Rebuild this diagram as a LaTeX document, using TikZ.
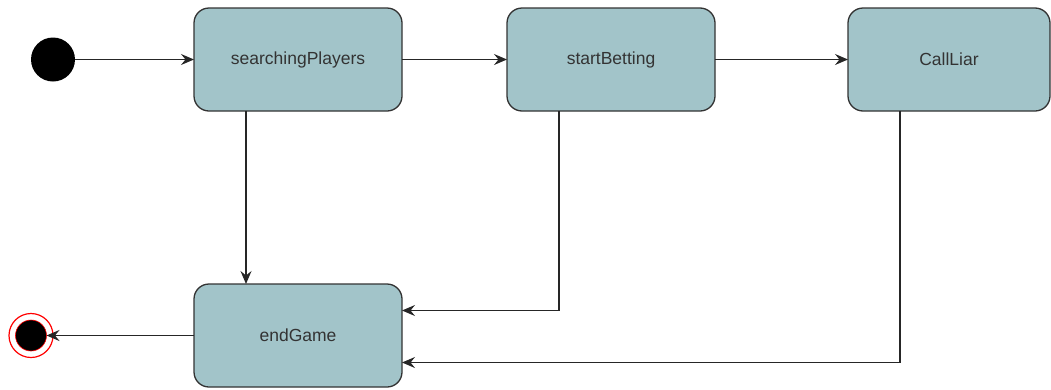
\documentclass[tikz,border=0pt]{standalone}
\usepackage{fontspec}
\setmainfont{Liberation Sans}
\usetikzlibrary{arrows.meta}
\definecolor{boxfill}{HTML}{A2C4C9}
\definecolor{boxline}{HTML}{333333}
\definecolor{txt}{HTML}{333333}
\definecolor{ringred}{HTML}{FF0000}
\tikzset{
  state/.style={draw=boxline, fill=boxfill, line width=1.3pt, rounded corners=15pt,
    minimum width=208pt, minimum height=103pt, inner sep=0pt, outer sep=0pt,
    text=txt, font=\fontsize{17.5}{20}\selectfont},
  arr/.style={draw=black!85, line width=1.3pt,
    -{Stealth[length=13pt,width=11pt,inset=4.5pt]}},
  initial/.style={circle, fill=black, minimum size=44pt, inner sep=0pt, outer sep=0pt},
  finalin/.style={circle, fill=black, draw=ringred, line width=0.6pt, minimum size=31pt, inner sep=0pt, outer sep=0pt},
}
\begin{document}
\begin{tikzpicture}[x=1pt,y=-1pt]
\useasboundingbox (0,0) rectangle (1051,389);
\node[initial] (start) at (53,59.5) {};
\node[state] (sp) at (298,59.5) {\raisebox{-1.5pt}{searchingPlayers}};
\node[state] (sb) at (611,59.5) {\raisebox{-1.5pt}{startBetting}};
\node[state, minimum width=202pt] (cl) at (949,59.5) {\raisebox{-1.5pt}{CallLiar}};
\node[state] (eg) at (298,335.5) {\raisebox{-1.5pt}{endGame}};
\draw[ringred, line width=1.2pt, fill=white] (31,335.5) circle (22pt);
\node[finalin] (fin) at (31,335.5) {};

\draw[arr] (start) -- (sp.west);
\draw[arr] (sp.east) -- (sb.west);
\draw[arr] (sb.east) -- (cl.west);
\draw[arr] ([xshift=-52pt]sp.south) -- ([xshift=-52pt]eg.north);
\draw[arr] ([xshift=-52pt]sb.south) |- ([yshift=25pt]eg.east);
\draw[arr] ([xshift=-49pt]cl.south) |- ([yshift=-27pt]eg.east);
\draw[arr] (eg.west) -- (fin);
\end{tikzpicture}
\end{document}
